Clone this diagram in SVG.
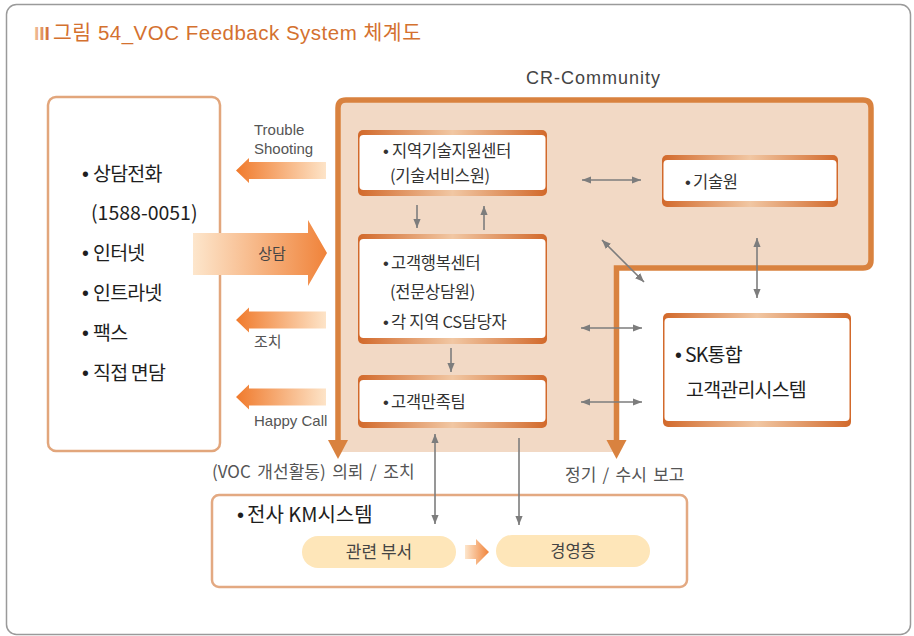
<svg xmlns="http://www.w3.org/2000/svg" width="914" height="636" viewBox="0 0 914 636">
  <defs>
    <!-- orange band used on top/bottom edges of the white boxes -->
    <linearGradient id="band" x1="0" y1="0" x2="1" y2="0">
      <stop offset="0" stop-color="#d2692b"/>
      <stop offset="0.5" stop-color="#f1c7a3"/>
      <stop offset="1" stop-color="#d2692b"/>
    </linearGradient>
    <linearGradient id="toLeft" x1="0" y1="0" x2="1" y2="0">
      <stop offset="0" stop-color="#f07a2c"/>
      <stop offset="1" stop-color="#fde4c8"/>
    </linearGradient>
    <linearGradient id="toRight" x1="0" y1="0" x2="1" y2="0">
      <stop offset="0" stop-color="#fde6cc"/>
      <stop offset="1" stop-color="#f0833a"/>
    </linearGradient>
    <linearGradient id="mark" x1="0" y1="0" x2="1" y2="0">
      <stop offset="0" stop-color="#f4c49c"/>
      <stop offset="1" stop-color="#d0662a"/>
    </linearGradient>
    <marker id="ah" viewBox="0 0 10 8" refX="10" refY="4" markerWidth="9" markerHeight="8" markerUnits="userSpaceOnUse" orient="auto-start-reverse">
      <path d="M0,0 L10,4 L0,8 Z" fill="#7d7d7d"/>
    </marker>
  </defs>
  <style>
    .kr { font-family: "Noto Sans CJK KR", sans-serif; }
    .lat { font-family: "Liberation Sans", "Noto Sans CJK KR", sans-serif; }
    .bul { font-family: "Liberation Sans", sans-serif; }
    .big { font-size: 19.5px; fill: #1e1e1e; letter-spacing: -0.8px; }
    .box { font-size: 16.5px; fill: #333; letter-spacing: -0.3px; }
    .lbl { font-size: 15px; fill: #555; }
    .sub { font-size: 17px; fill: #555; }
    .band { fill: url(#band); }
    .inner { fill: #fff; }
    .conn { stroke: #7d7d7d; stroke-width: 1.6; fill: none; }
    .pill { fill: #fee6b9; }
  </style>

  <!-- page frame -->
  <rect x="6.5" y="4.5" width="904" height="630" rx="10" fill="#fff" stroke="#9a9a9a" stroke-width="1.5"/>

  <!-- title -->
  <g id="title">
    <text x="34" y="40" class="bul" font-size="19" font-weight="bold" fill="url(#mark)">III</text>
    <text x="53" y="40" class="lat" font-size="20.5" fill="#d4712f" textLength="368" lengthAdjust="spacing">그림 54_VOC Feedback System 체계도</text>
  </g>

  <!-- CR-Community region -->
  <g id="cr-community">
    <text x="593" y="84" class="lat" font-size="18" fill="#444" text-anchor="middle" textLength="134" lengthAdjust="spacing">CR-Community</text>
    <path d="M338,100 H871 V268 H616 V452 H338 Z" fill="#f2d9c5"/>
    <path d="M338,441 V108 Q338,100 346,100 H863 Q871,100 871,108 V260 Q871,268 863,268 H616.5 V441" fill="none" stroke="#d9823f" stroke-width="5.5"/>
    <path d="M328,440 H348 L338,459 Z" fill="#d9823f"/>
    <path d="M606.5,440 H626.5 L616.5,459 Z" fill="#d9823f"/>
  </g>

  <!-- customer channels -->
  <g id="channels">
    <rect x="48" y="97" width="172" height="354" rx="8" fill="#fff" stroke="#e2a67c" stroke-width="2.5"/>
    <text x="82" y="181" class="big"><tspan class="bul">•</tspan><tspan x="93" class="kr">상담전화</tspan></text>
    <text x="91" y="220" class="big kr" style="letter-spacing:0">(1588-0051)</text>
    <text x="82" y="260" class="big"><tspan class="bul">•</tspan><tspan x="93" class="kr">인터넷</tspan></text>
    <text x="82" y="300" class="big"><tspan class="bul">•</tspan><tspan x="93" class="kr">인트라넷</tspan></text>
    <text x="82" y="340" class="big"><tspan class="bul">•</tspan><tspan x="93" class="kr">팩스</tspan></text>
    <text x="82" y="380" class="big"><tspan class="bul">•</tspan><tspan x="93" class="kr">직접 면담</tspan></text>
  </g>

  <!-- flows between channels and CR-Community -->
  <g id="flow-trouble">
    <path d="M236,170.5 L249,158 V162 H326 V179 H249 V183 Z" fill="url(#toLeft)"/>
    <text x="254" y="135" class="lat lbl">Trouble</text>
    <text x="254" y="154" class="lat lbl">Shooting</text>
  </g>
  <g id="flow-consult">
    <path d="M193,233 H308 V220 L327,253 L308,286 V275 H193 Z" fill="url(#toRight)"/>
    <text x="272" y="259" class="kr" font-size="15" fill="#444" text-anchor="middle">상담</text>
  </g>
  <g id="flow-action">
    <path d="M236,320 L249,307.5 V311.5 H326 V328.5 H249 V332.5 Z" fill="url(#toLeft)"/>
    <text x="254" y="347" class="kr lbl">조치</text>
  </g>
  <g id="flow-happycall">
    <path d="M236,397 L249,384.5 V388.5 H326 V405.5 H249 V409.5 Z" fill="url(#toLeft)"/>
    <text x="254" y="426" class="lat lbl">Happy Call</text>
  </g>

  <!-- inner nodes -->
  <g id="tech-support-center">
    <rect x="358" y="130" width="189" height="66" rx="5" class="band"/>
    <rect x="359.5" y="135" width="186" height="55" rx="4" class="inner"/>
    <text x="383" y="157" class="box"><tspan class="bul">•</tspan><tspan x="392" class="kr">지역기술지원센터</tspan></text>
    <text x="390" y="182" class="box kr">(기술서비스원)</text>
  </g>

  <g id="tech-institute">
    <rect x="662" y="155" width="176" height="52" rx="5" class="band"/>
    <rect x="663.5" y="160" width="173" height="41" rx="4" class="inner"/>
    <text x="685" y="188" class="box"><tspan class="bul">•</tspan><tspan x="693" class="kr">기술원</tspan></text>
  </g>

  <g id="customer-happiness-center">
    <rect x="358" y="234" width="189" height="110" rx="5" class="band"/>
    <rect x="359.5" y="239" width="186" height="99" rx="4" class="inner"/>
    <text x="383" y="269" class="box"><tspan class="bul">•</tspan><tspan x="391" class="kr">고객행복센터</tspan></text>
    <text x="390" y="298" class="box kr">(전문상담원)</text>
    <text x="383" y="328" class="box"><tspan class="bul">•</tspan><tspan x="391" class="kr">각 지역 CS담당자</tspan></text>
  </g>

  <g id="customer-satisfaction-team">
    <rect x="358" y="375" width="189" height="53" rx="5" class="band"/>
    <rect x="359.5" y="380" width="186" height="42" rx="4" class="inner"/>
    <text x="383" y="408" class="box"><tspan class="bul">•</tspan><tspan x="391" class="kr">고객만족팀</tspan></text>
  </g>

  <g id="sk-crm">
    <rect x="663" y="313" width="188" height="114" rx="5" class="band"/>
    <rect x="664.5" y="318" width="185" height="103" rx="4" class="inner"/>
    <text x="675" y="362" class="big"><tspan class="bul">•</tspan><tspan x="685" class="kr">SK통합</tspan></text>
    <text x="686" y="397" class="big kr">고객관리시스템</text>
  </g>

  <!-- labels under CR-Community -->
  <text x="212" y="478" class="kr sub" word-spacing="2.75">(VOC 개선활동) 의뢰 / 조치</text>
  <text x="565" y="481" class="kr sub" word-spacing="2.5">정기 / 수시 보고</text>

  <!-- company-wide KM system -->
  <g id="km-system">
    <rect x="212" y="495" width="475" height="92" rx="7" fill="#fff" stroke="#e3a982" stroke-width="2.5"/>
    <text x="237" y="522" class="big" style="font-size:20px;letter-spacing:0"><tspan class="bul">•</tspan><tspan x="247" class="kr">전사 KM시스템</tspan></text>
  </g>
  <g id="related-dept">
    <rect x="302" y="536" width="154" height="32" rx="16" class="pill"/>
    <text x="379" y="558" class="kr" font-size="17" fill="#444" text-anchor="middle">관련 부서</text>
  </g>
  <g id="management">
    <rect x="496" y="535" width="154" height="32" rx="16" class="pill"/>
    <text x="573" y="557" class="kr" font-size="16.5" fill="#444" text-anchor="middle">경영층</text>
  </g>

  <!-- connectors -->
  <g id="connectors">
    <path class="conn" d="M582,180 H641" marker-start="url(#ah)" marker-end="url(#ah)"/>
    <path class="conn" d="M417,205 V228" marker-end="url(#ah)"/>
    <path class="conn" d="M484,230 V206" marker-end="url(#ah)"/>
    <path class="conn" d="M602,240 L644,282" marker-start="url(#ah)" marker-end="url(#ah)"/>
    <path class="conn" d="M757,238 V298" marker-start="url(#ah)" marker-end="url(#ah)"/>
    <path class="conn" d="M581,328 H642" marker-start="url(#ah)" marker-end="url(#ah)"/>
    <path class="conn" d="M451,348 V372" marker-end="url(#ah)"/>
    <path class="conn" d="M581,402 H642" marker-start="url(#ah)" marker-end="url(#ah)"/>
    <path class="conn" d="M435,434 V524" marker-start="url(#ah)" marker-end="url(#ah)"/>
    <path class="conn" d="M519,438 V525" marker-end="url(#ah)"/>
    <path d="M465,545 H476 V539 L489,552 L476,565 V559 H465 Z" fill="url(#toRight)"/>
  </g>
</svg>
